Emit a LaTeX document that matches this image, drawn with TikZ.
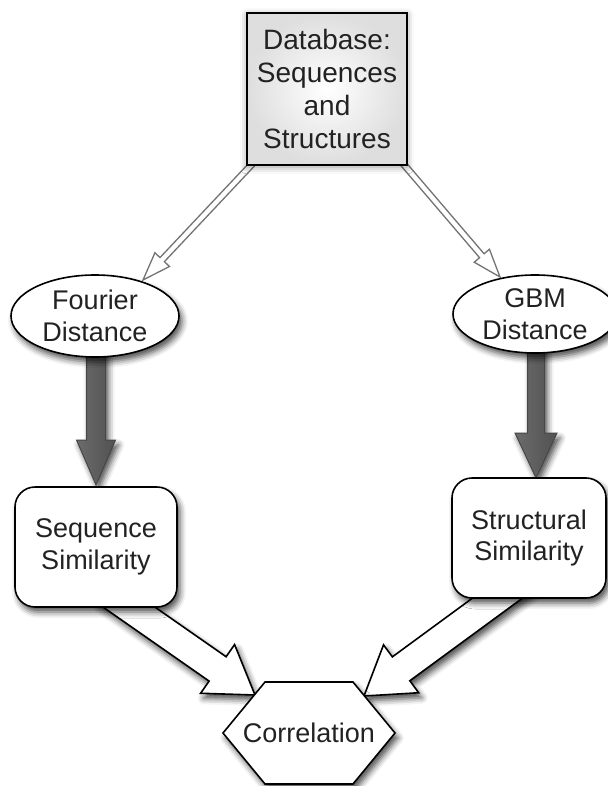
\documentclass[tikz,border=0pt]{standalone}
\usepackage{fontspec}
\setmainfont{Liberation Sans}
\usetikzlibrary{calc,shapes.geometric,shadows.blur,backgrounds}
\definecolor{txt}{HTML}{222222}
% #1 style, #2 start, #3 tip, #4 shaft half width, #5 head half width, #6 head length
\newcommand\fatarr[6]{%
  \coordinate (fa-h) at ($(#3)!#6!(#2)$);
  \path[#1] ($(#2)!#4!90:(#3)$) -- ($(fa-h)!#4!90:(#3)$) -- ($(fa-h)!#5!90:(#3)$) -- (#3)
    -- ($(fa-h)!#5!-90:(#3)$) -- ($(fa-h)!#4!-90:(#3)$) -- ($(#2)!#4!-90:(#3)$) -- cycle;}
\begin{document}
\begin{tikzpicture}[x=1pt,y=-1pt,
  every node/.style={text=txt, align=center, inner sep=0pt},
  lbl/.style={font=\fontsize{27}{31.5}\selectfont},
  shad/.style={blur shadow={shadow xshift=3pt,shadow yshift=-5pt,shadow blur radius=6pt,shadow opacity=70}},
  dbbox/.style={rectangle, draw=black, line width=1.6pt, inner color=white, outer color=black!13,
    minimum width=160pt, minimum height=152pt, font=\fontsize{28}{33}\selectfont,
    blur shadow={shadow xshift=0pt,shadow yshift=-2pt,shadow blur radius=7pt,shadow opacity=40}},
  ell/.style={ellipse, draw=black, line width=1.6pt, fill=white, lbl, shad},
  rbox/.style={rectangle, rounded corners=20pt, draw=black, line width=1.6pt, fill=white, lbl, shad},
  thinarr/.style={draw=black!55, line width=1.3pt, fill=white},
  grayarr/.style={draw=black!72, line width=1pt, left color=black!58, middle color=black!38, right color=black!68, shad},
  hollowarr/.style={draw=black, line width=1.6pt, fill=white, shad},
  hexa/.style={draw=black, line width=1.6pt, fill=white, shad}
]
\useasboundingbox (0,0) rectangle (607,786);

\node[dbbox] (db) at (327,89) {Database:\\Sequences\\and\\Structures};
\node[ell, minimum width=168pt, minimum height=82pt] (four) at (95,316) {Fourier\\Distance};
\node[ell, minimum width=164pt, minimum height=78pt] (gbm) at (535,314) {GBM\\Distance};
\node[rbox, minimum width=162pt, minimum height=120pt] (seq) at (96,547) {Sequence\\Similarity};
\node[rbox, minimum width=154pt, minimum height=120pt] (str) at (529,538) {Structural\\Similarity};

\coordinate (corr-c) at (309,733);
\path[hexa] ($(corr-c)+(-86,0)$) -- ($(corr-c)+(-44,-51)$) -- ($(corr-c)+(44,-51)$) -- ($(corr-c)+(86,0)$)
  -- ($(corr-c)+(44,51)$) -- ($(corr-c)+(-44,51)$) -- cycle;
\node[lbl] (corr) at (corr-c) {Correlation};

\begin{scope}[on background layer]
  \coordinate (a1s) at (256,160); \coordinate (a1t) at (143,280);
  \fatarr{thinarr}{a1s}{a1t}{3pt}{10pt}{28pt}
  \coordinate (a2s) at (400,160); \coordinate (a2t) at (500,277);
  \fatarr{thinarr}{a2s}{a2t}{3pt}{10pt}{28pt}
  \coordinate (a3s) at (96,345); \coordinate (a3t) at (96,485);
  \fatarr{grayarr}{a3s}{a3t}{9.5pt}{19.5pt}{45pt}
  \coordinate (a4s) at (536,340); \coordinate (a4t) at (536,478);
  \fatarr{grayarr}{a4s}{a4t}{8.5pt}{21pt}{45pt}
  \coordinate (a5s) at (104.5,590); \coordinate (a5t) at (255,695);
  \fatarr{hollowarr}{a5s}{a5t}{14.85pt}{29.7pt}{45.6pt}
  \coordinate (a6s) at (529,575); \coordinate (a6t) at (364,696);
  \fatarr{hollowarr}{a6s}{a6t}{14.8pt}{29.7pt}{46pt}
\end{scope}
\end{tikzpicture}
\end{document}
